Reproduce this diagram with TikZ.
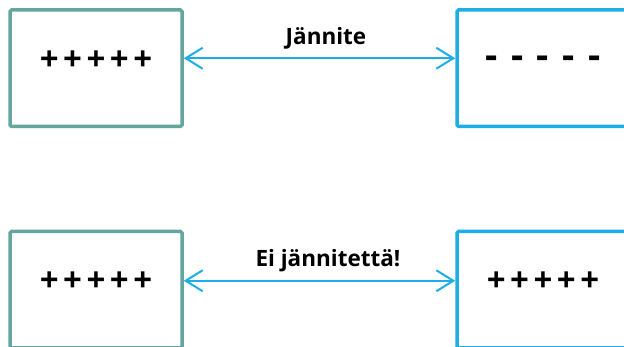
\documentclass[tikz,border=0pt]{standalone}
\usepackage{fontspec}
\setmainfont{Open Sans}
\usetikzlibrary{arrows.meta}
\definecolor{tealc}{RGB}{99,166,158}
\definecolor{bluec}{RGB}{29,174,229}
\newcommand\fivesym[2]{#1\kern#2#1\kern#2#1\kern#2#1\kern#2#1}
\tikzset{
  x=1pt, y=-1pt,
  boxbase/.style={draw, line width=3.5pt, rounded corners=1.5pt, minimum width=172pt, minimum height=116.5pt, inner sep=0pt, fill=white},
  tealbox/.style={boxbase, draw=tealc},
  bluebox/.style={boxbase, draw=bluec},
  signs/.style={font=\fontsize{33}{36}\selectfont\bfseries, inner sep=0pt},
  dashes/.style={font=\fontsize{38}{40}\selectfont\bfseries, inner sep=0pt},
  lbl/.style={font=\fontsize{22.5}{26}\selectfont\bfseries, inner sep=0pt, anchor=base},
  biarrow/.style={draw=bluec, line width=2pt, {Straight Barb[length=17pt,width=21pt]}-{Straight Barb[length=17pt,width=21pt]}}
}
\begin{document}
\begin{tikzpicture}
\useasboundingbox (0,0) rectangle (624,347);
% top row
\node[tealbox] (tl) at (96,68.25) {};
\node[bluebox] (tr) at (543,68.25) {};
\node[signs] (tlt) at ([yshift=8pt]tl.center) {\fivesym{+}{4.5pt}};
\node[dashes] (trt) at ([yshift=6pt]tr.center) {\fivesym{-}{13.5pt}};
\draw[biarrow] ([yshift=10pt]tl.east) -- ([yshift=10pt]tr.west);
\node[lbl] (tlab) at (326,45) {Jännite};
% bottom row
\node[tealbox] (bl) at (96,289.75) {};
\node[bluebox] (br) at (543,289.75) {};
\node[signs] (blt) at ([yshift=8pt]bl.center) {\fivesym{+}{4.5pt}};
\node[signs] (brt) at ([yshift=8pt]br.center) {\fivesym{+}{4.5pt}};
\draw[biarrow] ([yshift=9pt]bl.east) -- ([yshift=9pt]br.west);
\node[lbl] (blab) at (328,266.7) {Ei jännitettä!};
\end{tikzpicture}
\end{document}
